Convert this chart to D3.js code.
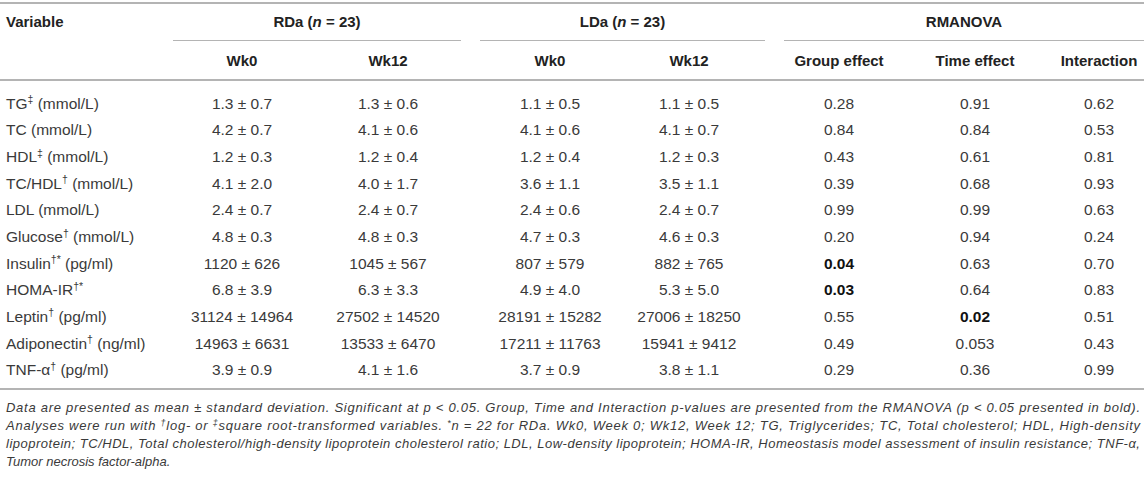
<!DOCTYPE html>
<html>
<head>
<meta charset="utf-8">
<script src="https://cdn.jsdelivr.net/npm/d3@7"></script>
<style>
	body { margin: 0; background: #fff; }
	svg text { font-family: "Liberation Sans", Arial, sans-serif; }
</style>
</head>
<body>
<div id="table"></div>
<script>
// table content
var variables = ['TG', 'TC', 'HDL', 'TC/HDL', 'LDL', 'Glucose', 'Insulin', 'HOMA-IR', 'Leptin', 'Adiponectin', 'TNF-α']
var varMarks = ['‡', '', '‡', '†', '', '†', '†*', '†*', '†', '†', '†']
var varUnits = ['(mmol/L)', '(mmol/L)', '(mmol/L)', '(mmol/L)', '(mmol/L)', '(mmol/L)', '(pg/ml)', '', '(pg/ml)', '(ng/ml)', '(pg/ml)']

var groupNames = ['RDa', 'LDa', 'RMANOVA']
var groupN = [23, 23, null]
var subHeads = ['Wk0', 'Wk12', 'Wk0', 'Wk12', 'Group effect', 'Time effect', 'Interaction']

var rdaWk0Mean = [1.3, 4.2, 1.2, 4.1, 2.4, 4.8, 1120, 6.8, 31124, 14963, 3.9]
var rdaWk0Sd = [0.7, 0.7, 0.3, 2.0, 0.7, 0.3, 626, 3.9, 14964, 6631, 0.9]
var rdaWk12Mean = [1.3, 4.1, 1.2, 4.0, 2.4, 4.8, 1045, 6.3, 27502, 13533, 4.1]
var rdaWk12Sd = [0.6, 0.6, 0.4, 1.7, 0.7, 0.3, 567, 3.3, 14520, 6470, 1.6]
var ldaWk0Mean = [1.1, 4.1, 1.2, 3.6, 2.4, 4.7, 807, 4.9, 28191, 17211, 3.7]
var ldaWk0Sd = [0.5, 0.6, 0.4, 1.1, 0.6, 0.3, 579, 4.0, 15282, 11763, 0.9]
var ldaWk12Mean = [1.1, 4.1, 1.2, 3.5, 2.4, 4.6, 882, 5.3, 27006, 15941, 3.8]
var ldaWk12Sd = [0.5, 0.7, 0.3, 1.1, 0.7, 0.3, 765, 5.0, 18250, 9412, 1.1]

var pGroup = ['0.28', '0.84', '0.43', '0.39', '0.99', '0.20', '0.04', '0.03', '0.55', '0.49', '0.29']
var pTime = ['0.91', '0.84', '0.61', '0.68', '0.99', '0.94', '0.63', '0.64', '0.02', '0.053', '0.36']
var pInter = ['0.62', '0.53', '0.81', '0.93', '0.63', '0.24', '0.70', '0.83', '0.51', '0.43', '0.99']

// footnote, one array per printed line: [text, style]
var note1 = [['Data are presented as mean ± standard deviation. Significant at p < 0.05. Group, Time and Interaction p-values are presented from the RMANOVA (p < 0.05 presented in bold).', '']]
var note2 = [['Analyses were run with ', ''], ['†', 'sup'], ['log- or ', ''], ['‡', 'sup'], ['square root-transformed variables. ', ''], ['*', 'sup'], ['n = 22 for RDa. Wk0, Week 0; Wk12, Week 12; TG, Triglycerides; TC, Total cholesterol; HDL, High-density', '']]
var note3 = [['lipoprotein; TC/HDL, Total cholesterol/high-density lipoprotein cholesterol ratio; LDL, Low-density lipoprotein; HOMA-IR, Homeostasis model assessment of insulin resistance; TNF-α,', '']]
var note4 = [['Tumor necrosis factor-alpha.', '']]

function createTable() {
	let width = 1144
	let height = 477
	let left = 6
	let fs = 15.5

	const svg = d3.select('#table').append('svg')
		.attr('width', width)
		.attr('height', height)

	// column layout
	var colX = [242, 388, 550, 689, 839, 975, 1099]
	var groupSpan = [[173, 461], [480, 765], [784, 1144]]

	var y = d3.scaleBand()
		.domain(d3.range(variables.length))
		.range([90, 383])

	var fmt = v => v >= 100 ? d3.format('d')(v) : d3.format('.1f')(v)
	var ms = (m, s) => m.map((d, i) => fmt(d) + ' ± ' + fmt(s[i]))

	var columns = [
		ms(rdaWk0Mean, rdaWk0Sd),
		ms(rdaWk12Mean, rdaWk12Sd),
		ms(ldaWk0Mean, ldaWk0Sd),
		ms(ldaWk12Mean, ldaWk12Sd),
		pGroup,
		pTime,
		pInter
	]

	// rules
	function rule(x1, x2, yy, w) {
		svg.append('line')
			.attr('x1', x1).attr('x2', x2)
			.attr('y1', yy).attr('y2', yy)
			.attr('stroke', '#b4b4b4')
			.attr('stroke-width', w)
	}
	rule(0, width, 3, 2)
	groupSpan.forEach(s => rule(s[0], s[1], 40.5, 1.2))
	rule(0, width, 80, 2)
	rule(0, width, 389, 2)

	// header row 1
	svg.append('text')
		.attr('x', left)
		.attr('y', 27)
		.attr('font-size', 15)
		.attr('font-weight', 'bold')
		.attr('fill', '#222')
		.text('Variable')

	groupNames.forEach((g, i) => {
		let t = svg.append('text')
			.attr('x', (groupSpan[i][0] + groupSpan[i][1]) / 2)
			.attr('y', 27)
			.attr('text-anchor', 'middle')
			.attr('font-size', 15)
			.attr('font-weight', 'bold')
			.attr('fill', '#222')
		if (groupN[i] === null) {
			t.text(g)
		} else {
			t.append('tspan').text(g + ' (')
			t.append('tspan').attr('font-style', 'italic').text('n')
			t.append('tspan').text(' = ' + groupN[i] + ')')
		}
	})

	// header row 2
	svg.selectAll('text.sub')
		.data(subHeads)
		.enter()
		.append('text')
		.attr('class', 'sub')
		.attr('x', (d, i) => colX[i])
		.attr('y', 65.5)
		.attr('text-anchor', 'middle')
		.attr('font-size', 15)
		.attr('font-weight', 'bold')
		.attr('fill', '#222')
		.text(d => d)

	// variable labels
	var labels = svg.selectAll('text.var')
		.data(variables)
		.enter()
		.append('text')
		.attr('class', 'var')
		.attr('x', left)
		.attr('y', (d, i) => y(i) + y.bandwidth() / 2 + 5.5)
		.attr('font-size', fs)
		.attr('fill', '#3a3a3a')

	labels.each(function(d, i) {
		let t = d3.select(this)
		t.append('tspan').text(d)
		if (varMarks[i]) {
			t.append('tspan').attr('font-size', 10.5).attr('dy', -5.5).text(varMarks[i])
			t.append('tspan').attr('dy', 5.5).text(varUnits[i] ? ' ' + varUnits[i] : '')
		} else {
			t.append('tspan').text(' ' + varUnits[i])
		}
	})

	// value cells
	columns.forEach((col, c) => {
		svg.selectAll('text.c' + c)
			.data(col)
			.enter()
			.append('text')
			.attr('class', 'c' + c)
			.attr('x', colX[c])
			.attr('y', (d, i) => y(i) + y.bandwidth() / 2 + 5.5)
			.attr('text-anchor', 'middle')
			.attr('font-size', fs)
			.attr('font-weight', d => (c >= 4 && +d < 0.05) ? 'bold' : 'normal')
			.attr('fill', d => (c >= 4 && +d < 0.05) ? '#111' : '#3a3a3a')
			.text(d => d)
	})

	// footnote
	var notes = [note1, note2, note3, note4]
	var noteY = d3.scalePoint()
		.domain(d3.range(notes.length))
		.range([412, 466])

	notes.forEach((line, i) => {
		let t = svg.append('text')
			.attr('x', left)
			.attr('y', noteY(i))
			.attr('font-size', 13)
			.attr('font-style', 'italic')
			.attr('fill', '#3a3a3a')
		// justify all but the last line
		if (i < notes.length - 1) {
			t.attr('textLength', width - left - 4).attr('lengthAdjust', 'spacing')
		}
		line.forEach((seg, k) => {
			if (seg[1] === 'sup') {
				t.append('tspan').attr('font-size', 9).attr('dy', -4.5).text(seg[0])
			} else {
				let s = t.append('tspan').text(seg[0])
				if (k > 0 && line[k - 1][1] === 'sup') s.attr('dy', 4.5)
			}
		})
	})
}

createTable()
</script>
</body>
</html>
